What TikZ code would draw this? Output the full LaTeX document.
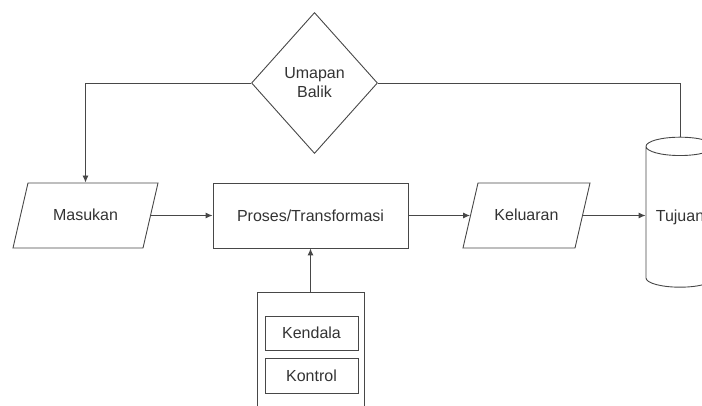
\documentclass[tikz,border=0pt]{standalone}
\usepackage{fontspec}
\setmainfont{Liberation Sans}
\usepackage{tikz}
\usetikzlibrary{shapes.geometric, arrows.meta}
\colorlet{garis}{black!72}

\begin{document}
\begin{tikzpicture}[x=1pt, y=-1pt,
                garis/.style = {draw=garis, line width=0.9pt},
                panah/.style = {garis, -{Latex[length=7pt, width=6pt]}},
                kotak/.style = {garis, rectangle, inner sep=0pt},
                jajar/.style = {garis, trapezium, align=center, inner xsep=0pt, inner ysep=27pt,
                                text height=11pt, text depth=0pt,
                                trapezium left angle=77, trapezium right angle=103},
                every node/.style = {text=black!80, font=\fontsize{16}{19}\selectfont}]
                \useasboundingbox (0,0) rectangle (702,406);
                \node [garis, diamond, inner sep=0pt, align=center,
                       minimum width=126pt, minimum height=141pt] (umpan) at (314.5,83) {Umapan\\Balik};
                \node [jajar, text width=115pt] (masukan) at (85.5,215.5) {Masukan};
                \node [kotak, minimum width=195pt, minimum height=65pt] (proses) at (310.5,215.5) {Proses/Transformasi};
                \node [jajar, text width=97pt] (keluaran) at (526.5,215.5) {Keluaran};
                \node [garis, cylinder, shape border rotate=90, aspect=0.38, inner sep=0pt,
                       minimum width=68pt, minimum height=150pt] (tujuan) at (680,217) {Tujuan};
                \node [kotak, minimum width=107pt, minimum height=140pt] (batas) at (310.5,362) {};
                \node [kotak, minimum width=93pt, minimum height=34pt] (kendala) at (311.5,333) {Kendala};
                \node [kotak, minimum width=93pt, minimum height=35pt] (kontrol) at (311.5,375.5) {Kontrol};
                % umpan balik
                \draw [panah] (umpan.west) -| (masukan.north);
                \draw [garis] (tujuan.north) |- (umpan.east);
                % alur utama
                \draw [panah] (masukan.east) -- (proses.west);
                \draw [panah] (proses.east) -- (keluaran.west);
                \draw [panah] (keluaran.east) -- (keluaran.east -| tujuan.west);
                \draw [panah] (batas.north) -- (proses.south);
            \end{tikzpicture}
\end{document}
